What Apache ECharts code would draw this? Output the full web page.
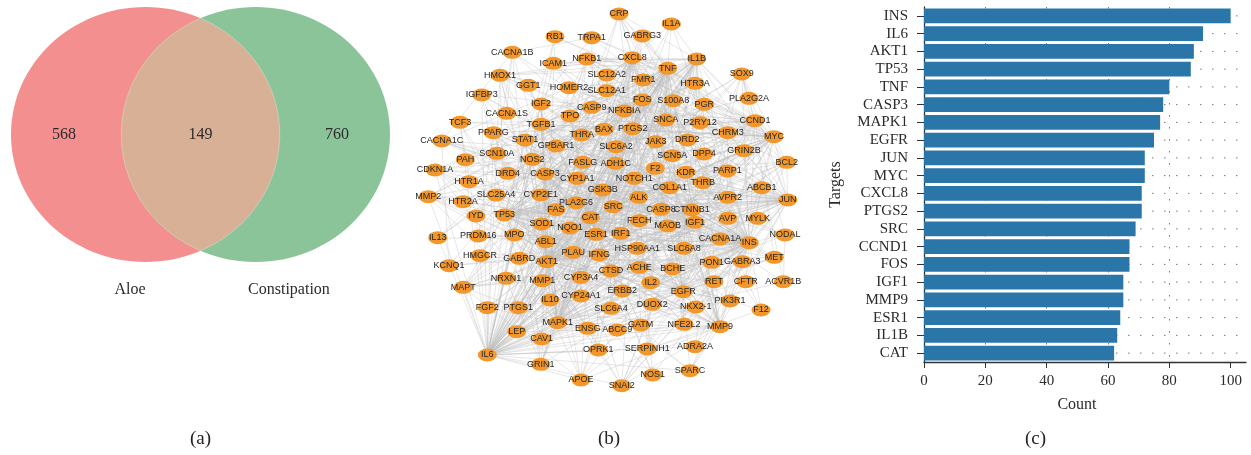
<!DOCTYPE html>
<html>
<head>
<meta charset="utf-8">
<script src="https://cdn.jsdelivr.net/npm/echarts@6/dist/echarts.min.js"></script>
<style>
  html, body { margin: 0; padding: 0; background: #ffffff; }
  #chart { width: 1251px; height: 455px; }
</style>
</head>
<body>
<div id="chart"></div>
<script>
// ---------- (a) Venn diagram data ----------
const vennSets = ['Aloe', 'Constipation'];
const vennCounts = [568, 149, 760];           // Aloe only, shared, Constipation only

// ---------- (b) PPI network: node names and layout positions ----------
const nodeNames = [
  'CRP','IL1A','RB1','TRPA1','GABRG3','CACNA1B','ICAM1','NFKB1','CXCL8','IL1B',
  'TNF','SLC12A2','FMR1','HTR3A','SOX9','HMOX1','GGT1','HOMER2','SLC12A1','IGFBP3',
  'FOS','S100A8','PGR','PLA2G2A','IGF2','CASP9','NFKBIA','CACNA1S','TPO','SNCA',
  'P2RY12','CCND1','TCF3','TGFB1','PPARG','BAX','PTGS2','THRA','CHRM3','MYC',
  'CACNA1C','STAT1','GPBAR1','SLC6A2','JAK3','DRD2','GRIN2B','PAH','SCN10A','NOS2',
  'FASLG','ADH1C','SCN5A','DPP4','BCL2','CDKN1A','F2','DRD4','CASP3','CYP1A1',
  'NOTCH1','KDR','PARP1','HTR1A','COL1A1','THRB','GSK3B','ABCB1','MMP2','SLC25A4',
  'CYP2E1','ALK','AVPR2','JUN','HTR2A','PLA2G6','SRC','CASP8','CTNNB1','FAS',
  'IYD','TP53','AVP','MYLK','CAT','FECH','IGF1','SOD1','MAOB','NQO1',
  'IL13','PRDM16','MPO','ABL1','ESR1','IRF1','CACNA1A','INS','NODAL','HMGCR',
  'GABRD','AKT1','PLAU','IFNG','HSP90AA1','SLC6A8','PON1','GABRA3','MET','KCNQ1',
  'NRXN1','MMP1','CYP3A4','CTSD','ACHE','BCHE','MAPT','IL2','RET','CFTR',
  'ACVR1B','CYP24A1','ERBB2','EGFR','IL10','FGF2','PTGS1','SLC6A4','DUOX2','NKX2-1',
  'PIK3R1','F12','MAPK1','ENSG','ABCC9','GATM','NFE2L2','MMP9','LEP','CAV1',
  'IL6','OPRK1','SERPINH1','ADRA2A','GRIN1','APOE','SNAI2','NOS1','SPARC'
];
const nodeX = [
  619.0,671.3,555.0,591.7,642.3,512.3,553.3,586.7,632.3,696.7,
  667.7,606.7,643.3,695.0,741.7,500.0,528.3,569.0,606.7,481.7,
  642.3,673.3,704.3,749.0,541.0,591.7,624.3,506.7,570.0,665.7,
  700.0,755.0,460.0,541.0,493.3,604.0,632.7,581.7,727.7,774.0,
  441.7,525.0,556.0,616.0,655.7,687.3,744.0,465.3,496.7,532.3,
  582.7,615.7,672.3,704.0,786.7,435.0,655.3,507.7,545.0,577.3,
  634.3,685.7,727.3,469.0,669.7,702.7,602.7,761.7,428.3,496.0,
  540.7,638.7,727.7,787.7,463.0,576.0,613.3,661.0,691.7,556.0,
  476.0,504.3,727.7,757.7,590.3,639.3,695.0,541.7,667.7,570.0,
  437.7,478.3,514.3,545.7,596.0,620.7,720.0,749.3,785.0,480.0,
  519.3,546.7,573.3,599.3,637.3,684.0,711.7,742.3,774.3,449.0,
  506.0,542.3,581.0,611.0,639.3,672.7,463.3,650.7,714.0,745.7,
  783.3,581.0,622.3,683.3,550.0,487.3,518.3,611.0,652.3,695.7,
  730.0,761.0,557.7,587.7,617.3,640.7,684.0,720.0,516.7,541.7,
  487.3,598.3,647.3,695.0,540.7,581.0,621.7,652.7,690.0
];
const nodeY = [
  14.0,24.0,36.7,37.7,36.0,52.3,63.3,59.0,57.7,59.0,
  68.3,75.0,80.0,83.3,74.0,75.3,85.3,87.7,90.7,95.0,
  100.0,100.7,104.3,98.3,104.0,107.3,111.0,113.3,116.0,120.0,
  122.7,120.7,122.3,124.3,132.7,129.3,128.7,135.0,132.7,136.7,
  141.0,140.0,146.0,146.7,141.7,140.0,150.7,159.7,153.3,159.3,
  162.3,163.3,155.7,154.0,162.3,170.0,168.3,173.3,174.0,178.3,
  178.3,172.3,171.0,181.7,187.7,182.7,190.0,187.7,196.7,195.0,
  195.0,197.3,197.3,200.0,201.7,202.7,206.7,209.3,210.0,209.7,
  216.0,215.0,218.3,218.3,217.7,220.7,222.3,224.0,226.0,228.0,
  237.7,236.0,235.0,241.7,234.3,233.3,239.0,242.7,235.0,255.7,
  258.3,261.7,252.3,255.0,248.3,248.3,262.3,261.7,257.3,265.7,
  278.3,280.7,277.3,271.0,267.3,269.0,287.3,282.7,281.7,281.7,
  281.7,296.0,291.0,291.7,300.0,307.7,307.7,308.3,304.3,307.0,
  301.0,310.0,322.7,328.3,330.0,325.0,324.3,326.7,331.7,339.0,
  355.0,350.0,349.0,346.7,364.3,380.0,385.7,375.0,370.7
];
// Interaction lists: "NODE: partner partner ..."
const interactionLists = [
  'INS: IL6 AKT1 TP53 TNF CASP3 MAPK1 EGFR JUN MYC CXCL8 PTGS2 SRC CCND1 FOS IGF1 MMP9 ESR1 IL1B CAT CRP IL1A LEP APOE PPARG IGF2 IGFBP3 SOD1 NOS2 NOS1 HMOX1 GSK3B STAT1 NFKB1 ICAM1 TGFB1 BCL2 BAX CDKN1A DPP4 PIK3R1 MPO HMGCR PON1 CAV1 FGF2 MMP2 KDR SNCA PGR MAPT IL10 IFNG IL2 IL13 SERPINH1 NFE2L2 CFTR ABCC9 GATM CACNA1C CACNA1A KCNQ1 RET MET ERBB2 CTNNB1 NOTCH1 HSP90AA1 F2 PLAU CTSD ACHE BCHE DRD2 GRIN1 GRIN2B MAOB SLC6A4 HTR1A HTR2A ADRA2A OPRK1 THRB THRA TPO PAH NQO1 ABCB1 PARP1 SOX9 COL1A1 SPARC SNAI2 F12 AVP GPBAR1 PRDM16 NODAL',
  'IL6: TNF AKT1 TP53 CASP3 MAPK1 EGFR JUN MYC CXCL8 PTGS2 SRC CCND1 FOS IGF1 MMP9 ESR1 IL1B CAT CRP IL1A LEP APOE PPARG HMOX1 STAT1 NFKB1 NFKBIA ICAM1 TGFB1 BCL2 BAX CDKN1A IL10 IFNG IL2 IL13 SOD1 NOS2 MPO CAV1 FGF2 MMP2 MMP1 SOX9 COL1A1 SPARC SNAI2 PLAU CTSD HSP90AA1 NFE2L2 SERPINH1 KDR MET ERBB2 CTNNB1 GSK3B PARP1 PGR IGFBP3 IGF2 HMGCR DPP4 F2 FASLG FAS IRF1 JAK3 S100A8 GRIN1 NQO1 ABCB1 ADRA2A OPRK1 PIK3R1 MAPT CASP8 CASP9 NOTCH1 ABL1 SLC6A4 CFTR RB1 TCF3 ACVR1B',
  'AKT1: TP53 TNF CASP3 MAPK1 EGFR JUN MYC CXCL8 PTGS2 SRC CCND1 FOS IGF1 MMP9 ESR1 IL1B CAT GSK3B BAX BCL2 CDKN1A PIK3R1 CTNNB1 NOTCH1 HSP90AA1 ERBB2 MET KDR PARP1 STAT1 NFKB1 NFKBIA TGFB1 LEP PPARG IGF2 IGFBP3 HMOX1 NOS2 NOS1 SOD1 CAV1 FGF2 MMP2 ABL1 ALK RET FAS FASLG CASP8 CASP9 SNCA MAPT APOE SOX9 SNAI2 ABCB1 NFE2L2 PTGS1 HMGCR JAK3 PGR COL1A1 SPARC MYLK IFNG IL2 IL10 TCF3 RB1 CRP',
  'TP53: TNF CASP3 MAPK1 EGFR JUN MYC CXCL8 PTGS2 SRC CCND1 FOS IGF1 MMP9 ESR1 IL1B CAT BAX BCL2 CDKN1A PARP1 RB1 HMOX1 NQO1 SOD1 STAT1 NFKB1 NFKBIA TGFB1 CTNNB1 NOTCH1 HSP90AA1 ERBB2 MET GSK3B ABL1 ALK SNAI2 SOX9 SNCA MAPT APOE FAS FASLG CASP8 CASP9 IGFBP3 IGF2 PGR NFE2L2 ABCB1 MMP2 MMP1 PLAU COL1A1 SPARC CAV1 TCF3 HMGCR PIK3R1 KDR IL2 IFNG PRDM16 SLC25A4',
  'TNF: CASP3 MAPK1 EGFR JUN MYC CXCL8 PTGS2 SRC CCND1 FOS IGF1 MMP9 ESR1 IL1B CAT CRP IL1A IL2 IL10 IL13 IFNG ICAM1 NFKB1 NFKBIA STAT1 TGFB1 HMOX1 NOS2 SOD1 MPO LEP PPARG APOE BAX BCL2 FAS FASLG CASP8 CASP9 PLAU S100A8 IRF1 JAK3 MMP1 MMP2 CTSD F2 DPP4 SERPINH1 COL1A1 SNCA MAPT GSK3B CDKN1A PTGS1 NQO1 NFE2L2 TRPA1 GABRG3',
  'CASP3: MAPK1 EGFR JUN MYC CXCL8 PTGS2 SRC CCND1 FOS IGF1 MMP9 ESR1 IL1B CAT BAX BCL2 CASP8 CASP9 PARP1 FAS FASLG CDKN1A SOD1 HMOX1 NOS2 NQO1 GSK3B HSP90AA1 SNCA MAPT APOE CTNNB1 STAT1 NFKB1 TGFB1 CTSD MMP2 ABL1 IL2 IL10 IFNG IGF2 LEP PPARG NFE2L2 KDR CAV1 SLC25A4 DRD4',
  'MAPK1: EGFR JUN MYC CXCL8 PTGS2 SRC CCND1 FOS IGF1 MMP9 ESR1 IL1B CAT ERBB2 MET KDR RET ALK PIK3R1 GSK3B CTNNB1 HSP90AA1 STAT1 NFKB1 NFKBIA TGFB1 FGF2 CAV1 ABL1 JAK3 BCL2 BAX CDKN1A PARP1 NOS2 HMOX1 LEP PPARG IGF2 GRIN1 GRIN2B DRD2 SNCA MAPT PLAU MMP2 MMP1 COL1A1 NOTCH1 ENSG NODAL',
  'EGFR: JUN MYC CXCL8 PTGS2 SRC CCND1 FOS IGF1 MMP9 ESR1 IL1B ERBB2 MET KDR RET ALK PIK3R1 CAV1 CTNNB1 HSP90AA1 STAT1 NOTCH1 ABL1 GSK3B CDKN1A PARP1 PLAU MMP2 MMP1 FGF2 TGFB1 SNAI2 SOX9 SPARC COL1A1 NFE2L2 ABCB1 JAK3 BCL2 CAT NKX2-1',
  'JUN: MYC CXCL8 PTGS2 SRC CCND1 FOS IGF1 MMP9 ESR1 IL1B CAT TGFB1 NFKB1 NFKBIA STAT1 BCL2 BAX CDKN1A HMOX1 NQO1 NFE2L2 MMP1 MMP2 PLAU ICAM1 CTNNB1 GSK3B FASLG FAS CASP8 IRF1 SOX9 SNAI2 NOTCH1 PPARG LEP COL1A1 SPARC HSP90AA1 CRP',
  'MYC: CXCL8 PTGS2 SRC CCND1 FOS IGF1 MMP9 ESR1 IL1B CAT CDKN1A BCL2 BAX TCF3 CTNNB1 NOTCH1 GSK3B PARP1 TGFB1 SOX9 SNAI2 RB1 HSP90AA1 STAT1 ABL1 ERBB2 NFKB1 IGF2 HMOX1 NQO1 TPO',
  'CXCL8: PTGS2 SRC CCND1 FOS IGF1 MMP9 ESR1 IL1B CAT CRP IL1A ICAM1 NFKB1 NFKBIA S100A8 MPO IL2 IL10 IL13 IFNG STAT1 TGFB1 HMOX1 MMP1 MMP2 PLAU DPP4 F2 SERPINH1 LEP CTSD',
  'PTGS2: SRC CCND1 FOS IGF1 MMP9 ESR1 IL1B CAT PTGS1 NOS2 NOS1 HMOX1 NFKB1 NFKBIA PPARG LEP CRP IL1A ICAM1 SOD1 NQO1 NFE2L2 MPO TGFB1 IL10 IFNG PLA2G6 PLA2G2A P2RY12 F2 GATM ADH1C CYP2E1 CYP1A1',
  'SRC: CCND1 FOS IGF1 MMP9 ESR1 IL1B CAT ERBB2 MET KDR RET ALK ABL1 PIK3R1 CAV1 CTNNB1 HSP90AA1 STAT1 JAK3 GSK3B MYLK GRIN1 GRIN2B DRD2 PLAU MMP2 FGF2 AVPR2 CACNA1C SNCA MAPT PGR',
  'CCND1: FOS IGF1 MMP9 ESR1 IL1B CAT CDKN1A RB1 CTNNB1 TCF3 GSK3B NOTCH1 PGR PPARG STAT1 NFKB1 SOX9 ERBB2 IGF2 IGFBP3 BCL2 PARP1 MET',
  'FOS: IGF1 MMP9 ESR1 IL1B CAT NFKB1 STAT1 TGFB1 PPARG BCL2 CDKN1A HMOX1 NFE2L2 DRD2 DRD4 GRIN1 GRIN2B HTR1A HTR2A SLC6A4 OPRK1 AVP AVPR2 HOMER2 MMP1 CHRM3',
  'IGF1: MMP9 ESR1 IL1B CAT IGF2 IGFBP3 LEP PPARG GSK3B PIK3R1 APOE SOD1 MAPT SNCA FGF2 TGFB1 COL1A1 KDR ERBB2 MET CAV1 PGR',
  'MMP9: ESR1 IL1B CAT MMP1 MMP2 TGFB1 PLAU SPARC COL1A1 ICAM1 NFKB1 CTSD SERPINH1 SNAI2 S100A8 MPO F2 KDR FGF2 CAV1 LEP CRP APOE',
  'ESR1: IL1B CAT PGR CYP1A1 CYP2E1 CYP3A4 ERBB2 CTNNB1 BCL2 CDKN1A HSP90AA1 SOD1 NOS1 NOS2 THRA THRB PPARG GPBAR1 ABCB1 IGFBP3 IGF2 TPO PRDM16',
  'IL1B: CAT CRP IL1A ICAM1 NFKB1 NFKBIA S100A8 MPO IL2 IL10 IL13 IFNG IRF1 CASP8 HMOX1 NOS2 SOD1 TGFB1 MMP1 MMP2 PTGS1 P2RY12 CTSD LEP APOE F2',
  'CAT: SOD1 HMOX1 NQO1 NFE2L2 MPO NOS2 NOS1 GATM ADH1C CYP2E1 CYP1A1 PON1 APOE LEP PPARG GSK3B PARP1 FECH DUOX2 TPO GGT1',
  'GABRG3: GABRD GABRA3 GRIN1 GRIN2B SLC6A4',
  'GABRD: GABRA3 GRIN1 GRIN2B SLC12A2 SLC12A1',
  'CACNA1B: CACNA1A CACNA1C CACNA1S SCN10A SCN5A TRPA1 OPRK1 GRIN1',
  'CACNA1C: CACNA1A CACNA1S SCN5A KCNQ1 CFTR AVPR2 MYLK',
  'TRPA1: SCN10A HTR3A P2RY12 OPRK1',
  'SLC12A2: SLC12A1 CFTR SLC6A2 SLC6A4 SLC6A8 KCNQ1',
  'FMR1: GRIN2B HOMER2 GRIN1 MAPT SNCA',
  'HTR3A: HTR1A HTR2A SLC6A4 DRD2 DRD4 CHRM3',
  'HOMER2: GRIN1 GRIN2B CACNA1S',
  'IYD: TPO DUOX2 THRA THRB',
  'PRDM16: PPARG TCF3 SOX9',
  'NODAL: ACVR1B SOX9 NOTCH1 CTNNB1 TGFB1',
  'ACVR1B: TGFB1 SOX9',
  'F12: F2 PLAU SERPINH1 CRP',
  'KCNQ1: SCN5A CACNA1A',
  'ENSG: AKT1 TP53',
  'CYP24A1: CYP3A4 CYP1A1 CYP2E1 GATM',
  'SLC25A4: PARP1 SOD1 BAX',
  'GGT1: NQO1 GATM',
  'CHRM3: DRD2 ADRA2A AVPR2 GPBAR1 P2RY12',
  'NRXN1: GRIN1 GRIN2B GABRA3',
  'MAPT: SNCA GSK3B APOE ACHE BCHE',
  'ACHE: BCHE MAOB SLC6A4 DRD2',
  'SNAI2: SOX9 NOTCH1 CTNNB1 TGFB1'
];

// ---------- (c) bar chart data ----------
const targets = ['INS','IL6','AKT1','TP53','TNF','CASP3','MAPK1','EGFR','JUN','MYC',
                 'CXCL8','PTGS2','SRC','CCND1','FOS','IGF1','MMP9','ESR1','IL1B','CAT'];
const targetCounts = [100, 91, 88, 87, 80, 78, 77, 75, 72, 72,
                      71, 71, 69, 67, 67, 65, 65, 64, 63, 62];
const countTicks = [0, 20, 40, 60, 80, 100];
const countMax = 105;

// ---------- build network links ----------
const nodeSet = new Set(nodeNames);
const seen = new Set();
const links = [];
interactionLists.forEach(function (row) {
  const parts = row.split(':');
  const src = parts[0].trim();
  parts[1].trim().split(/\s+/).forEach(function (dst) {
    if (!nodeSet.has(src) || !nodeSet.has(dst) || src === dst) return;
    const key = src < dst ? src + '|' + dst : dst + '|' + src;
    if (seen.has(key)) return;
    seen.add(key);
    links.push({ source: src, target: dst });
  });
});
const netNodes = nodeNames.map(function (n, i) { return { name: n, x: nodeX[i], y: nodeY[i] }; });
const minX = Math.min.apply(null, nodeX), maxX = Math.max.apply(null, nodeX);
const minY = Math.min.apply(null, nodeY), maxY = Math.max.apply(null, nodeY);

// ---------- Venn geometry (in unit-radius space) ----------
const vennLayout = {
  centers: [-0.41, 0.41],
  countX: [-1.016, 0, 1.016],
  nameX: [-0.525, 0.658],
  nameY: -1.22
};
const vennColors = ['#F3908F', '#D8B095', '#8CC49A'];
const serif = '"Liberation Serif", "DejaVu Serif", serif';

function renderVenn(params, api) {
  const i = params.dataIndex;       // 0: Aloe, 1: Constipation, 2: shared
  const rx = api.size([1, 0])[0];
  const ry = api.size([0, 1])[1];
  const textStyle = function (txt, p, size) {
    return { type: 'text', x: p[0], y: p[1],
      style: { text: txt, fill: '#2b2b2b', font: size + 'px ' + serif, align: 'center', verticalAlign: 'middle' } };
  };
  if (i < 2) {
    const c = api.coord([vennLayout.centers[i], 0]);
    const countIdx = i === 0 ? 0 : 2;
    return { type: 'group', children: [
      { type: 'ellipse', shape: { cx: c[0], cy: c[1], rx: rx, ry: ry },
        style: { fill: i === 0 ? vennColors[0] : vennColors[2] } },
      textStyle(String(vennCounts[countIdx]), api.coord([vennLayout.countX[countIdx], 0]), 16),
      textStyle(vennSets[i], api.coord([vennLayout.nameX[i], vennLayout.nameY]), 16)
    ] };
  }
  const c1 = api.coord([vennLayout.centers[0], 0]);
  const c2 = api.coord([vennLayout.centers[1], 0]);
  const xm = (c1[0] + c2[0]) / 2;
  const half = (c2[0] - c1[0]) / 2;
  const dy = ry * Math.sqrt(1 - (half / rx) * (half / rx));
  const yt = c1[1] - dy, yb = c1[1] + dy;
  const d = 'M' + xm + ',' + yt + ' A' + rx + ',' + ry + ' 0 0 1 ' + xm + ',' + yb +
            ' A' + rx + ',' + ry + ' 0 0 1 ' + xm + ',' + yt + ' Z';
  return { type: 'group', children: [
    { type: 'path',
      shape: { pathData: d, x: c2[0] - rx, y: yt, width: (c1[0] + rx) - (c2[0] - rx), height: yb - yt, layout: 'cover' },
      style: { fill: vennColors[1], stroke: 'rgba(255,255,255,0.35)', lineWidth: 0.8 } },
    textStyle(String(vennCounts[1]), api.coord([vennLayout.countX[1], 0]), 16)
  ] };
}

function renderRowGuide(params, api) {
  const p0 = api.coord([0, api.value(1)]);
  const p1 = api.coord([api.value(0), api.value(1)]);
  return { type: 'line', shape: { x1: p0[0], y1: p0[1], x2: p1[0], y2: p1[1] },
    style: { stroke: '#777', lineWidth: 1, lineDash: [1.5, 10.5] } };
}

const chart = echarts.init(document.getElementById('chart'), null, { renderer: 'canvas' });
chart.setOption({
  animation: false,
  backgroundColor: '#ffffff',
  textStyle: { fontFamily: serif },
  grid: [
    { left: 11, top: 7, width: 379, height: 255 },
    { left: 924, top: 7, width: 322, height: 355 }
  ],
  xAxis: [
    { gridIndex: 0, type: 'value', min: -1.41, max: 1.41, show: false },
    { gridIndex: 1, type: 'value', min: 0, max: countMax, interval: 20,
      name: 'Count', nameLocation: 'middle', nameGap: 35,
      nameTextStyle: { fontSize: 16, color: '#2b2b2b', fontFamily: serif, padding: [0, 16, 0, 0] },
      axisLine: { show: true, lineStyle: { color: '#333', width: 1.3 } },
      axisTick: { show: true, length: 6, customValues: countTicks, lineStyle: { color: '#333' } },
      axisLabel: { customValues: countTicks, fontSize: 15, color: '#2b2b2b', fontFamily: serif, margin: 12 },
      splitLine: { show: true, showMinLine: false, showMaxLine: false,
        lineStyle: { color: '#777', type: [1.5, 10.5], width: 1 } }
    }
  ],
  yAxis: [
    { gridIndex: 0, type: 'value', min: -1, max: 1, show: false },
    { gridIndex: 1, type: 'category', data: targets, inverse: true,
      name: 'Targets', nameLocation: 'middle', nameGap: 80, nameRotate: 90,
      nameTextStyle: { fontSize: 16, color: '#2b2b2b', fontFamily: serif },
      axisLine: { show: true, lineStyle: { color: '#333', width: 1.3 } },
      axisTick: { show: true, length: 7, alignWithLabel: true, interval: 0, lineStyle: { color: '#333' } },
      axisLabel: { interval: 0, fontSize: 15, color: '#2b2b2b', fontFamily: serif, margin: 16 },
      splitLine: { show: false }
    }
  ],
  series: [
    { type: 'custom', xAxisIndex: 0, yAxisIndex: 0, renderItem: renderVenn,
      data: [[0, 0], [0, 0], [0, 0]], silent: true, clip: false },
    { type: 'graph', layout: 'none', roam: false, silent: true,
      left: minX, top: minY, width: maxX - minX, height: maxY - minY,
      data: netNodes, links: links,
      symbol: 'circle', symbolSize: [19, 13],
      itemStyle: { color: '#F1972C' },
      label: { show: true, position: 'inside', fontSize: 9, color: '#262626',
        fontFamily: '"Liberation Sans", Arial, sans-serif' },
      lineStyle: { color: '#bcbcbc', width: 0.6, opacity: 0.6, curveness: 0 },
      emphasis: { disabled: true }
    },
    { type: 'custom', xAxisIndex: 1, yAxisIndex: 1, z: 1, silent: true,
      renderItem: renderRowGuide,
      data: targets.map(function (t) { return [countMax, t]; }) },
    { type: 'bar', xAxisIndex: 1, yAxisIndex: 1, z: 2, silent: true,
      data: targetCounts, barCategoryGap: '17%',
      itemStyle: { color: '#2B76A9' } }
  ],
  graphic: [
    { type: 'text', left: 190, top: 430, style: { text: '(a)', font: '19px ' + serif, fill: '#222' } },
    { type: 'text', left: 598, top: 430, style: { text: '(b)', font: '19px ' + serif, fill: '#222' } },
    { type: 'text', left: 1025, top: 430, style: { text: '(c)', font: '19px ' + serif, fill: '#222' } }
  ]
});
</script>
</body>
</html>
